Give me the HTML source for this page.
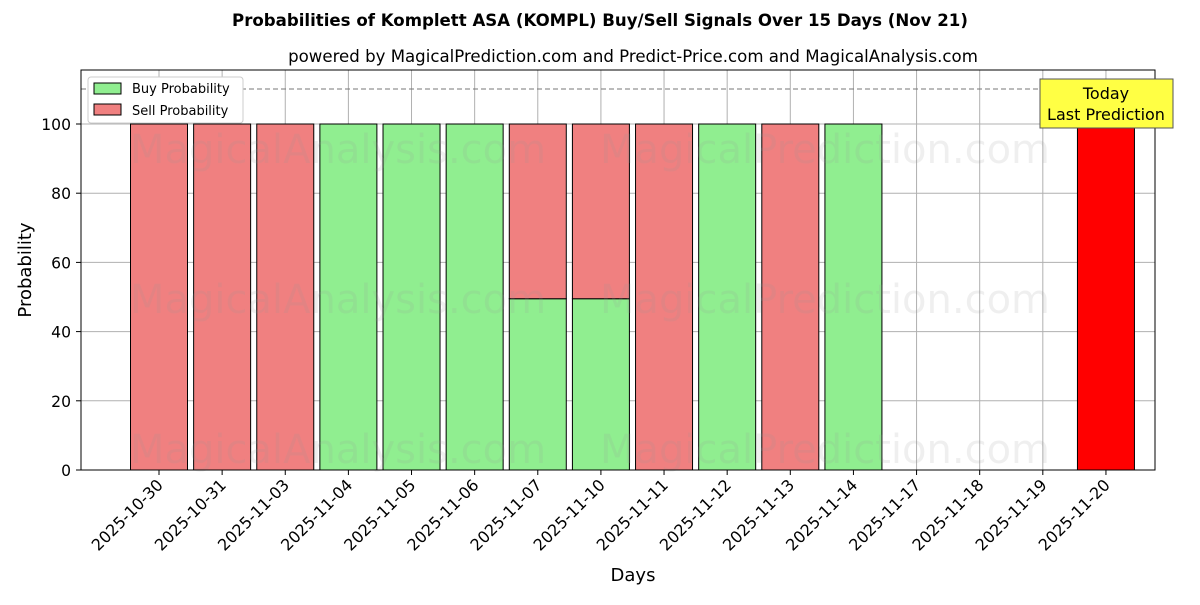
<!DOCTYPE html>
<html><head><meta charset="utf-8"><style>
body{margin:0;background:#fff;font-family:"Liberation Sans","DejaVu Sans",sans-serif;}
</style></head><body>
<svg width="1200" height="600" xmlns="http://www.w3.org/2000/svg" font-family="DejaVu Sans, Liberation Sans, sans-serif">
<text x="600" y="26" text-anchor="middle" font-size="16.6" font-weight="bold">Probabilities of Komplett ASA (KOMPL) Buy/Sell Signals Over 15 Days (Nov 21)</text>
<text x="633" y="62" text-anchor="middle" font-size="16.6">powered by MagicalPrediction.com and Predict-Price.com and MagicalAnalysis.com</text>
<g id="grid"></g>
<g id="bars"></g>
<g font-size="40" fill="#999" opacity="0.15">
<text x="130" y="163">MagicalAnalysis.com</text><text x="600" y="163">MagicalPrediction.com</text>
<text x="130" y="313">MagicalAnalysis.com</text><text x="600" y="313">MagicalPrediction.com</text>
<text x="130" y="463">MagicalAnalysis.com</text><text x="600" y="463">MagicalPrediction.com</text>
</g>
<line x1="81" x2="1155" y1="89" y2="89" stroke="#777" stroke-dasharray="5,3"/>
<rect x="81" y="70" width="1074" height="400" fill="none" stroke="#000"/>
<g id="axes"></g>
<g>
<rect x="1040" y="79" width="133" height="49" fill="#ffff44" stroke="#555"/>
<text x="1106" y="99" text-anchor="middle" font-size="16">Today</text>
<text x="1106" y="120" text-anchor="middle" font-size="16">Last Prediction</text>
</g>
<g>
<rect x="88" y="77" width="155" height="46" fill="#fff" stroke="#ccc" rx="3"/>
<rect x="94" y="83" width="27" height="11" fill="#90ee90" stroke="#000"/>
<text x="132" y="93" font-size="13">Buy Probability</text>
<rect x="94" y="104" width="27" height="11" fill="#f08080" stroke="#000"/>
<text x="132" y="115" font-size="13">Sell Probability</text>
</g>
<text x="633" y="581" text-anchor="middle" font-size="18">Days</text>
<text transform="translate(31,270) rotate(-90)" text-anchor="middle" font-size="18">Probability</text>
</svg>
<script>
const categories=["2025-10-30","2025-10-31","2025-11-03","2025-11-04","2025-11-05","2025-11-06","2025-11-07","2025-11-10","2025-11-11","2025-11-12","2025-11-13","2025-11-14","2025-11-17","2025-11-18","2025-11-19","2025-11-20"];
const buyValues=[0,0,0,100,100,100,49.5,49.5,0,100,0,100,0,0,0,0];
const sellValues=[100,100,100,0,0,0,50.5,50.5,100,0,100,0,0,0,0,0];
const todayValues=[0,0,0,0,0,0,0,0,0,0,0,0,0,0,0,100];
const yTicks=[0,20,40,60,80,100];
const NS="http://www.w3.org/2000/svg";
const x=i=>159+i*63.13, y=v=>470-v*3.46, bw=57;
function mk(t,a,p){const e=document.createElementNS(NS,t);for(const k in a)e.setAttribute(k,a[k]);p.appendChild(e);return e;}
const G=document.getElementById('grid'),B=document.getElementById('bars'),A=document.getElementById('axes');
yTicks.forEach(v=>{const l=mk('line',{x1:81,x2:1155,y1:y(v),y2:y(v),stroke:'#b0b0b0'},G);

mk('line',{x1:76,x2:81,y1:y(v),y2:y(v),stroke:'#000'},A);
const t=mk('text',{x:71,y:y(v)+6,'text-anchor':'end','font-size':15.6},A);t.textContent=v;
});
categories.forEach((c,i)=>{const l=mk('line',{x1:x(i),x2:x(i),y1:70,y2:470,stroke:'#b0b0b0'},G);

mk('line',{x1:x(i),x2:x(i),y1:470,y2:475,stroke:'#000'},A);
const t=mk('text',{transform:`translate(${x(i)+5},${486}) rotate(-45)`,'text-anchor':'end','font-size':16},A);t.textContent=c;

if(buyValues[i]>0){const r=mk('rect',{x:x(i)-bw/2,y:y(buyValues[i]),width:bw,height:buyValues[i]*3.46,fill:'#90ee90',stroke:'#000'},B);
}
if(sellValues[i]>0){const r=mk('rect',{x:x(i)-bw/2,y:y(buyValues[i]+sellValues[i]),width:bw,height:sellValues[i]*3.46,fill:'#f08080',stroke:'#000'},B);
}
if(todayValues[i]>0){const r=mk('rect',{x:x(i)-bw/2,y:y(todayValues[i]),width:bw,height:todayValues[i]*3.46,fill:'#ff0000',stroke:'#000'},B);
}
});
</script>
</body></html>
